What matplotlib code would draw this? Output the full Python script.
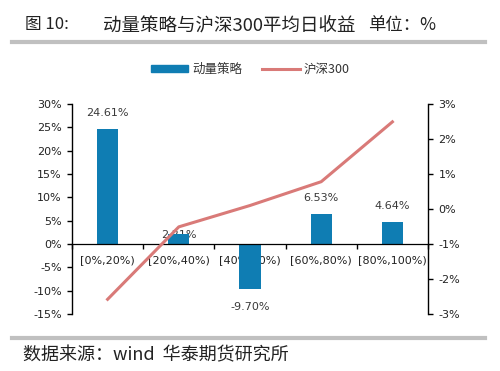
import matplotlib
matplotlib.use("Agg")
import matplotlib.pyplot as plt
from matplotlib.lines import Line2D
from matplotlib.ticker import FuncFormatter, FixedLocator
import numpy as np

plt.rcParams['font.family'] = ['DejaVu Sans', 'Noto Sans CJK SC']

categories = ['[0%,20%)', '[20%,40%)', '[40%,60%)', '[60%,80%)', '[80%,100%)']
strategy = [24.61, 2.21, -9.70, 6.53, 4.64]
hs300 = [-2.58, -0.51, 0.10, 0.78, 2.49]
left_ticks = [-15, -10, -5, 0, 5, 10, 15, 20, 25, 30]
right_ticks = [-3, -2, -1, 0, 1, 2, 3]

bar_color = '#0F7DB3'
line_color = '#D97A78'
cjk = ['Noto Sans CJK SC', 'DejaVu Sans']

fig = plt.figure(figsize=(5, 3.71), dpi=100)
ax = fig.add_axes([0.144, 0.1536, 0.712, 0.5661])
x = np.arange(len(categories))
ax.bar(x, strategy, width=0.3, color=bar_color, zorder=2)
ax.set_xlim(-0.5, len(categories) - 0.5)
ax.set_ylim(-15, 30)
ax.yaxis.set_major_locator(FixedLocator(left_ticks))
ax.yaxis.set_major_formatter(FuncFormatter(lambda v, p: f'{v:.0f}%'))
ax.tick_params(axis='y', labelsize=8, length=3.5, width=1, pad=4, direction='out', labelcolor='#222222')
ax.spines['top'].set_visible(False)
ax.spines['right'].set_visible(False)
ax.spines['bottom'].set_position(('data', 0))
ax.spines['bottom'].set_linewidth(0.9)
ax.spines['left'].set_linewidth(1.0)
ax.set_xticks(x)
ax.set_xticklabels(categories)
ax.tick_params(axis='x', which='major', length=0, labelsize=8, pad=8, labelcolor='#222222')
ax.set_xticks(np.arange(-0.5, len(categories)), minor=True)
ax.tick_params(axis='x', which='minor', length=3.5, width=1, direction='out')

for xi, v in zip(x, strategy):
    if v >= 3:
        y = v + 3.4
    elif v >= 0:
        y = v - 0.3
    else:
        y = v - 3.9
    ax.text(xi, y, f'{v:.2f}%', ha='center', va='center', fontsize=8, color='#3a3a3a', zorder=1)

ax2 = ax.twinx()
ax2.plot(x, hs300, color=line_color, linewidth=2.2, zorder=3)
ax2.set_ylim(-3, 3)
ax2.yaxis.set_major_locator(FixedLocator(right_ticks))
ax2.yaxis.set_major_formatter(FuncFormatter(lambda v, p: f'{v:.0f}%'))
ax2.tick_params(axis='y', labelsize=8, length=3.5, width=1, pad=4, direction='out', labelcolor='#222222')
for s in ['top', 'left', 'bottom']:
    ax2.spines[s].set_visible(False)
ax2.spines['right'].set_linewidth(1.0)

handles = [plt.Rectangle((0, 0), 1, 1, color=bar_color),
           Line2D([0], [0], color=line_color, linewidth=2.2)]
leg = fig.legend(handles, ['动量策略', '沪深300'], loc='center', bbox_to_anchor=(0.5, 0.813),
                 ncol=2, frameon=False, prop={'family': cjk, 'size': 9}, handlelength=3.0,
                 handleheight=0.6, columnspacing=1.6, handletextpad=0.3)
for t in leg.get_texts():
    t.set_color('#333333')

title_y = 1 - 25 / 371
fig.text(0.05, title_y, '图 10:', fontsize=12, color='#222222', va='center', ha='left', family=cjk)
fig.text(0.206, title_y, '动量策略与沪深300平均日收益', fontsize=13.3, color='#222222', va='center', ha='left', family=cjk)
fig.text(0.736, title_y, '单位：%', fontsize=12.5, color='#222222', va='center', ha='left', family=cjk)
fig.add_artist(Line2D([0.024, 0.97], [0.888, 0.888], color='#C0C0C0', linewidth=3, transform=fig.transFigure))
fig.add_artist(Line2D([0.024, 0.97], [0.089, 0.089], color='#C0C0C0', linewidth=3, transform=fig.transFigure))
fig.text(0.046, 1 - 355 / 371, '数据来源：wind  华泰期货研究所', fontsize=13, color='#222222',
         va='center', ha='left', family=cjk)

fig.savefig('out.png', dpi=100)
